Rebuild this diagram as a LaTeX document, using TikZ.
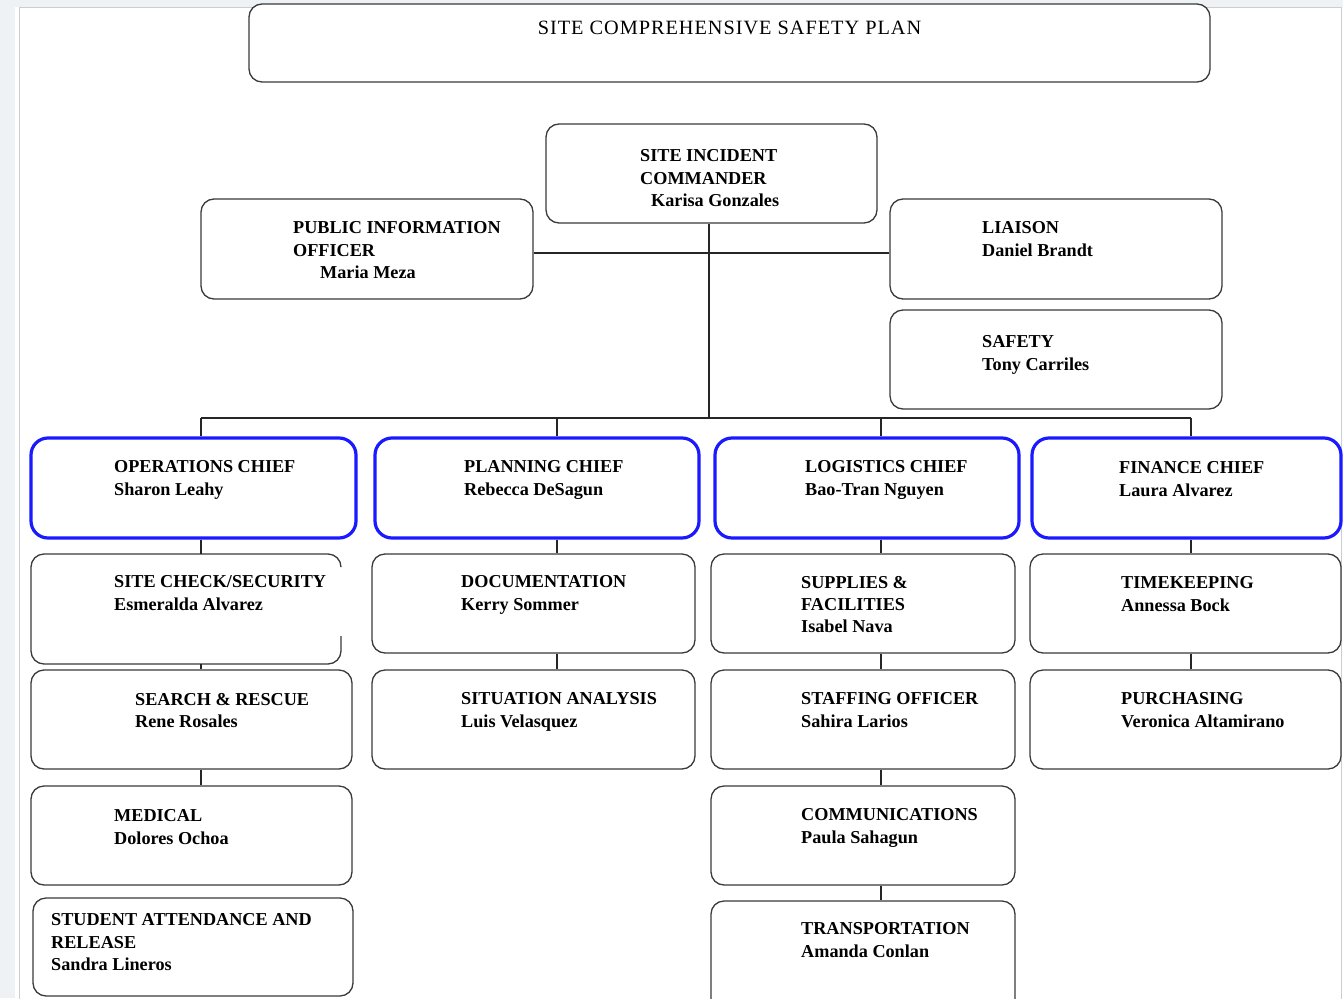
\documentclass[tikz,border=0pt]{standalone}
\usepackage{fontspec}
\setmainfont{Liberation Serif}
\definecolor{boxgray}{HTML}{3A3A3A}
\definecolor{chiefblue}{HTML}{1A1AFF}
\definecolor{pagegray}{HTML}{C9CED1}
\definecolor{bandgray}{HTML}{EEF2F4}
\newcommand\lblfont{\fontsize{18.2}{22.3}\selectfont\bfseries}
\newcommand\mybox[6]{\node[#1, minimum width={#5pt-#3pt}, minimum height={#6pt-#4pt}] (#2) at ({(#3+#5)/2},{(#4+#6)/2}) {};}
\newcommand\lab[4]{\node[lbl] (#1) at ({#2},{#3-12.3}) {#4};}
\tikzset{
  box/.style={draw=boxgray, line width=1.3pt, rounded corners=13pt, rectangle, inner sep=0pt},
  ghost/.style={rectangle, inner sep=0pt},
  chief/.style={draw=chiefblue, line width=3.2pt, rounded corners=17pt, rectangle, inner sep=0pt},
  lbl/.style={anchor=north west, inner sep=0pt, align=left, font=\lblfont, text=black},
  conn/.style={draw=black!85, line width=1.2pt},
}
\begin{document}
\begin{tikzpicture}[x=1pt,y=-1pt]
\clip (0,0) rectangle (1343,998);
\fill[white] (0,0) rectangle (1343,998);
\fill[bandgray] (0,0) rectangle (15,998);
\fill[bandgray] (0,0) rectangle (1343,7);
\draw[pagegray, line width=1pt] (19,1100) -- (19,8) -- (1341,8) -- (1341,1100);

% title
\node[box, fill=white, minimum width=961pt, minimum height=78pt] (title) at (729.5,43) {};
\node[anchor=base, inner sep=0pt, font=\fontsize{20.3}{22}\selectfont\addfontfeature{LetterSpace=4.8}] (titletext) at (729.5,34.5) {SITE COMPREHENSIVE SAFETY PLAN};

% command staff
\mybox{box}{cmd}{546}{124}{877}{223}
\mybox{box}{pio}{201}{199}{533}{299}
\mybox{box}{liaison}{890}{199}{1222}{299}
\mybox{box}{safety}{890}{310}{1222}{409}

% chiefs
\mybox{chief}{ops}{31}{438}{356}{538}
\mybox{chief}{plan}{375}{438}{699}{538}
\mybox{chief}{logi}{715}{438}{1019}{538}
\mybox{chief}{fin}{1032}{438}{1341}{538}

% operations column
\mybox{ghost}{sitecheck}{31}{554}{341}{664}
\draw[boxgray, line width=1.3pt, rounded corners=13pt] (341,566) -- (341,554) -- (31,554) -- (31,664) -- (341,664) -- (341,636);
\mybox{box}{search}{31}{670}{352}{769}
\mybox{box}{medical}{31}{786}{352}{885}
\mybox{box}{student}{33}{898}{353}{996}

% planning column
\mybox{box}{docu}{372}{554}{695}{653}
\mybox{box}{situ}{372}{670}{695}{769}

% logistics column
\mybox{box}{supp}{711}{554}{1015}{653}
\mybox{box}{staff}{711}{670}{1015}{769}
\mybox{box}{comm}{711}{786}{1015}{885}
\mybox{box}{trans}{711}{901}{1015}{1012}

% finance column
\mybox{box}{time}{1030}{554}{1341}{653}
\mybox{box}{purch}{1030}{670}{1341}{769}

% connectors
\coordinate (hub) at (709,253);
\coordinate (k1) at (201,418);
\coordinate (k2) at (557,418);
\coordinate (k3) at (881,418);
\coordinate (k4) at (1191,418);
\draw[conn] (pio.east |- hub) -- (liaison.west |- hub);
\draw[conn] (hub |- cmd.south) -- (hub |- k1);
\draw[conn] (k1) -- (k4);
\draw[conn] (k1) -- (k1 |- ops.north);
\draw[conn] (k2) -- (k2 |- plan.north);
\draw[conn] (k3) -- (k3 |- logi.north);
\draw[conn] (k4) -- (k4 |- fin.north);
\draw[conn] (k1 |- ops.south) -- (k1 |- sitecheck.north);
\draw[conn] (k1 |- sitecheck.south) -- (k1 |- search.north);
\draw[conn] (k1 |- search.south) -- (k1 |- medical.north);
\draw[conn] (k2 |- plan.south) -- (k2 |- docu.north);
\draw[conn] (k2 |- docu.south) -- (k2 |- situ.north);
\draw[conn] (k3 |- logi.south) -- (k3 |- supp.north);
\draw[conn] (k3 |- supp.south) -- (k3 |- staff.north);
\draw[conn] (k3 |- staff.south) -- (k3 |- comm.north);
\draw[conn] (k3 |- comm.south) -- (k3 |- trans.north);
\draw[conn] (k4 |- fin.south) -- (k4 |- time.north);
\draw[conn] (k4 |- time.south) -- (k4 |- purch.north);

% labels
\lab{tcmd}{640}{162}{SITE INCIDENT\\COMMANDER\\\hspace*{11pt}Karisa Gonzales}
\lab{tpio}{293}{234}{PUBLIC INFORMATION\\OFFICER\\\hspace*{27pt}Maria Meza}
\lab{tliaison}{982}{234}{LIAISON\\Daniel Brandt}
\lab{tsafety}{982}{348}{SAFETY\\Tony Carriles}
\lab{tops}{114}{473}{OPERATIONS CHIEF\\Sharon Leahy}
\lab{tplan}{464}{473}{PLANNING CHIEF\\Rebecca DeSagun}
\lab{tlogi}{805}{473}{LOGISTICS CHIEF\\Bao-Tran Nguyen}
\lab{tfin}{1119}{474}{FINANCE CHIEF\\Laura Alvarez}
\lab{tsite}{114}{588}{SITE CHECK/SECURITY\\Esmeralda Alvarez}
\lab{tdocu}{461}{588}{DOCUMENTATION\\Kerry Sommer}
\lab{tsupp}{801}{588}{SUPPLIES \&\\FACILITIES\\Isabel Nava}
\lab{ttime}{1121}{589}{TIMEKEEPING\\Annessa Bock}
\lab{tsearch}{135}{705}{SEARCH \& RESCUE\\Rene Rosales}
\lab{tsitu}{461}{705}{SITUATION ANALYSIS\\Luis Velasquez}
\lab{tstaff}{801}{705}{STAFFING OFFICER\\Sahira Larios}
\lab{tpurch}{1121}{705}{PURCHASING\\Veronica Altamirano}
\lab{tmed}{114}{822}{MEDICAL\\Dolores Ochoa}
\lab{tcomm}{801}{821}{COMMUNICATIONS\\Paula Sahagun}
\lab{tstud}{51}{926}{STUDENT ATTENDANCE AND\\RELEASE\\Sandra Lineros}
\lab{ttrans}{801}{935}{TRANSPORTATION\\Amanda Conlan}
\end{tikzpicture}
\end{document}
